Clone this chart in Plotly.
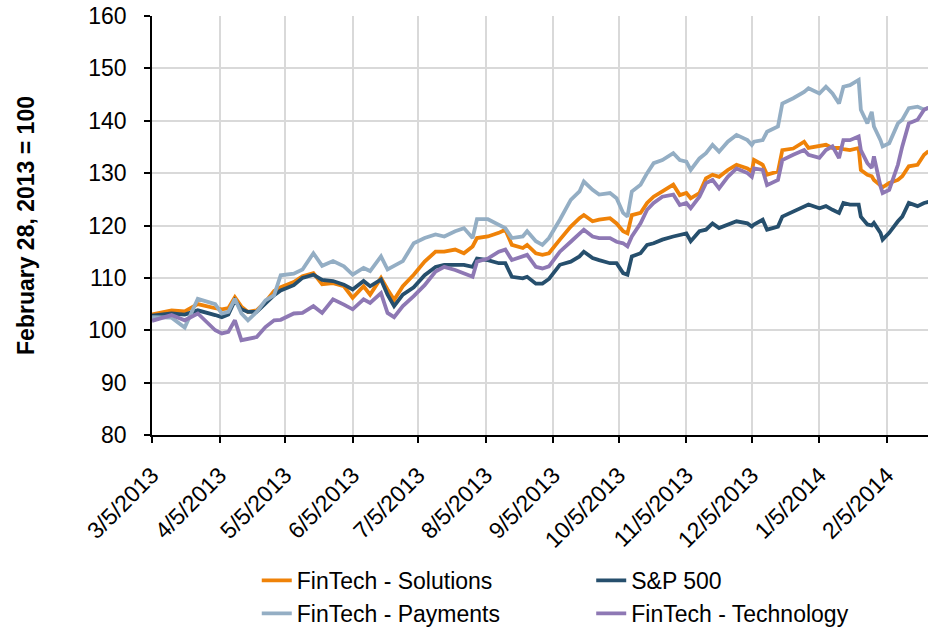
import plotly.graph_objects as go

dates = [
    "2013-03-05", "2013-03-14", "2013-03-20", "2013-03-26", "2013-04-03", "2013-04-06",
    "2013-04-09", "2013-04-12", "2013-04-15", "2013-04-18", "2013-04-22", "2013-04-26",
    "2013-04-30", "2013-05-03", "2013-05-09", "2013-05-13", "2013-05-18", "2013-05-22",
    "2013-05-27", "2013-06-01", "2013-06-05", "2013-06-10", "2013-06-13", "2013-06-18",
    "2013-06-21", "2013-06-24", "2013-06-28", "2013-07-03", "2013-07-08", "2013-07-13",
    "2013-07-17", "2013-07-22", "2013-07-26", "2013-07-30", "2013-08-01", "2013-08-06",
    "2013-08-11", "2013-08-14", "2013-08-17", "2013-08-22", "2013-08-24", "2013-08-28",
    "2013-08-31", "2013-09-03", "2013-09-08", "2013-09-13", "2013-09-17", "2013-09-19",
    "2013-09-23", "2013-09-26", "2013-10-01", "2013-10-04", "2013-10-07", "2013-10-09",
    "2013-10-11", "2013-10-15", "2013-10-18", "2013-10-21", "2013-10-25", "2013-10-30",
    "2013-11-02", "2013-11-05", "2013-11-07", "2013-11-11", "2013-11-14", "2013-11-17",
    "2013-11-20", "2013-11-24", "2013-11-28", "2013-12-03", "2013-12-05", "2013-12-06",
    "2013-12-10", "2013-12-12", "2013-12-17", "2013-12-19", "2013-12-24", "2013-12-29",
    "2013-12-31", "2014-01-05", "2014-01-08", "2014-01-11", "2014-01-14", "2014-01-16",
    "2014-01-19", "2014-01-23", "2014-01-24", "2014-01-27", "2014-01-29", "2014-01-30",
    "2014-02-02", "2014-02-03", "2014-02-06", "2014-02-10", "2014-02-12", "2014-02-15",
    "2014-02-19", "2014-02-22", "2014-02-24",
]

solutions = [
    103.0, 103.8, 103.6, 105.0, 104.2, 104.0, 104.2, 106.3, 104.5, 103.5, 103.8, 105.4,
    107.5, 108.2, 109.2, 110.3, 110.9, 108.8, 109.0, 108.4, 106.2, 108.4, 106.8, 110.0,
    107.8, 105.8, 108.4, 110.6, 113.1, 115.0, 115.0, 115.4, 114.7, 116.0, 117.6, 117.9,
    118.6, 119.2, 116.3, 115.7, 116.3, 114.7, 114.4, 114.7, 117.3, 119.8, 121.4, 122.0,
    120.8, 121.1, 121.4, 120.4, 118.9, 118.5, 122.0, 122.4, 124.3, 125.5, 126.5, 127.8,
    125.8, 126.2, 125.2, 126.2, 129.0, 129.7, 129.3, 130.6, 131.6, 130.9, 130.3, 132.5,
    131.6, 129.7, 130.3, 134.4, 134.7, 136.0, 134.8, 135.1, 135.4, 134.8, 134.8, 134.6,
    134.4, 134.8, 130.6, 129.7, 129.4, 128.7, 127.5, 127.3, 128.1, 128.7, 129.4, 131.3,
    131.6, 133.5, 134.2,
]

sp500 = [
    102.8, 103.2, 103.0, 103.8, 102.9, 102.5, 103.0, 105.7, 104.0, 103.5, 103.5, 105.1,
    106.7, 107.6, 108.6, 110.0, 110.6, 109.6, 109.4, 108.7, 107.8, 109.4, 108.4, 109.7,
    106.8, 104.6, 106.8, 108.2, 110.5, 112.1, 112.5, 112.5, 112.5, 112.1, 113.7, 113.4,
    112.8, 112.8, 110.2, 109.9, 110.2, 108.9, 108.9, 109.8, 112.5, 113.1, 114.1, 115.0,
    113.8, 113.4, 112.8, 112.8, 110.9, 110.6, 114.1, 114.7, 116.3, 116.6, 117.3, 117.9,
    118.2, 118.5, 117.0, 118.9, 119.2, 120.4, 119.5, 120.1, 120.8, 120.4, 119.8, 120.2,
    121.1, 119.2, 119.8, 121.7, 122.7, 123.6, 124.0, 123.3, 123.7, 123.0, 122.4, 124.3,
    124.0, 124.0, 121.7, 120.2, 120.0, 120.5, 118.6, 117.3, 118.6, 120.8, 121.7, 124.3,
    123.7, 124.3, 124.5,
]

payments = [
    102.5, 102.4, 100.5, 106.0, 105.0, 103.2, 103.5, 106.0, 103.2, 101.9, 103.5, 105.7,
    106.7, 110.5, 110.8, 111.6, 114.7, 112.3, 113.2, 112.2, 110.6, 111.9, 111.3, 114.1,
    111.6, 112.2, 113.2, 116.6, 117.6, 118.3, 117.9, 118.9, 119.5, 117.6, 121.2, 121.2,
    120.2, 119.5, 117.6, 117.9, 118.9, 117.0, 116.3, 117.6, 121.1, 124.9, 126.5, 128.4,
    126.8, 125.9, 126.2, 125.2, 122.4, 121.7, 126.5, 127.8, 130.0, 131.9, 132.5, 133.8,
    132.5, 132.2, 130.6, 132.8, 133.8, 135.4, 134.1, 136.0, 137.3, 136.3, 135.4, 136.0,
    136.3, 137.9, 138.9, 143.3, 144.3, 145.5, 146.2, 145.2, 146.5, 145.2, 143.3, 146.5,
    146.8, 147.8, 142.1, 139.5, 141.7, 138.9, 136.3, 135.1, 135.7, 139.5, 140.2, 142.4,
    142.7, 142.1, 142.5,
]

technology = [
    101.8, 102.9, 101.9, 103.2, 100.0, 99.4, 99.7, 101.9, 98.1, 98.4, 98.7, 100.6,
    101.9, 102.0, 103.2, 103.3, 104.6, 103.3, 105.9, 104.9, 104.0, 105.9, 105.2, 107.1,
    103.3, 102.5, 104.6, 106.5, 108.6, 111.2, 112.1, 111.5, 110.8, 110.2, 113.1, 113.7,
    115.0, 115.4, 113.4, 114.0, 114.4, 112.1, 111.8, 112.2, 115.0, 116.9, 118.5, 119.2,
    117.9, 117.6, 117.6, 116.9, 116.6, 116.0, 117.9, 120.4, 123.0, 124.3, 125.5, 125.9,
    123.9, 124.3, 123.3, 125.5, 128.1, 128.7, 127.1, 129.3, 130.9, 130.0, 129.3, 130.9,
    130.6, 127.7, 128.7, 132.5, 133.5, 134.4, 133.5, 132.9, 134.4, 135.1, 132.9, 136.3,
    136.3, 137.0, 134.4, 131.9, 131.0, 133.2, 127.5, 126.2, 126.8, 131.6, 135.1, 139.5,
    140.2, 142.1, 142.5,
]

tick_dates = [
    "2013-03-05", "2013-04-05", "2013-05-05", "2013-06-05", "2013-07-05", "2013-08-05",
    "2013-09-05", "2013-10-05", "2013-11-05", "2013-12-05", "2014-01-05", "2014-02-05",
]
tick_labels = [
    "3/5/2013", "4/5/2013", "5/5/2013", "6/5/2013", "7/5/2013", "8/5/2013",
    "9/5/2013", "10/5/2013", "11/5/2013", "12/5/2013", "1/5/2014", "2/5/2014",
]
y_ticks = [80, 90, 100, 110, 120, 130, 140, 150, 160]

series = [
    ("FinTech - Solutions", solutions, "#EF8208", "legend"),
    ("S&P 500", sp500, "#264F6D", "legend2"),
    ("FinTech - Payments", payments, "#94AEC4", "legend"),
    ("FinTech - Technology", technology, "#8E78B4", "legend2"),
]

FONT = "Liberation Sans, Arial, sans-serif"
FS = 23

fig = go.Figure()
for name, vals, color, lg in series:
    fig.add_trace(go.Scatter(
        x=dates, y=vals, name=name, mode="lines",
        line=dict(color=color, width=3.8), legend=lg,
    ))

fig.update_layout(
    width=928, height=628,
    margin=dict(l=152, r=0, t=16, b=193, autoexpand=False),
    paper_bgcolor="white", plot_bgcolor="white",
    font=dict(family=FONT, size=FS, color="black"),
    legend=dict(x=0.135, y=-0.296, xanchor="left", yanchor="top",
                orientation="v", font=dict(size=FS), tracegroupgap=0,
                bgcolor="rgba(0,0,0,0)"),
    legend2=dict(x=0.566, y=-0.296, xanchor="left", yanchor="top",
                 orientation="v", font=dict(size=FS), tracegroupgap=0,
                 bgcolor="rgba(0,0,0,0)"),
)

fig.update_xaxes(
    type="date", automargin=False,
    range=["2013-03-05", "2014-02-23 19:00"],
    tickmode="array", tickvals=tick_dates, ticktext=tick_labels,
    tickangle=-45, tickfont=dict(size=FS), ticklabelstandoff=10,
    ticklabeloverflow="allow",
    showgrid=True, gridcolor="#D9D9D9", gridwidth=1.5,
    showline=True, linecolor="black", linewidth=1.5,
    ticks="outside", ticklen=6, tickcolor="black", tickwidth=1.5,
    zeroline=False,
)
fig.update_yaxes(
    automargin=False,
    range=[80, 160.001], tickmode="array", tickvals=y_ticks,
    ticktext=[str(v) for v in y_ticks],
    tickfont=dict(size=FS), ticklabeloverflow="allow",
    showgrid=True, gridcolor="#D9D9D9", gridwidth=1.5,
    showline=True, linecolor="black", linewidth=1.5,
    ticks="outside", ticklen=6, tickcolor="black", tickwidth=1.5,
    zeroline=False, ticklabelstandoff=13,
    title=dict(text="<b>February 28, 2013 = 100</b>", font=dict(size=FS), standoff=47),
)

fig.write_html(
    "out.html",
    config={"displayModeBar": False},
    post_script="document.body.style.margin='0';document.body.style.overflow='hidden';",
)
